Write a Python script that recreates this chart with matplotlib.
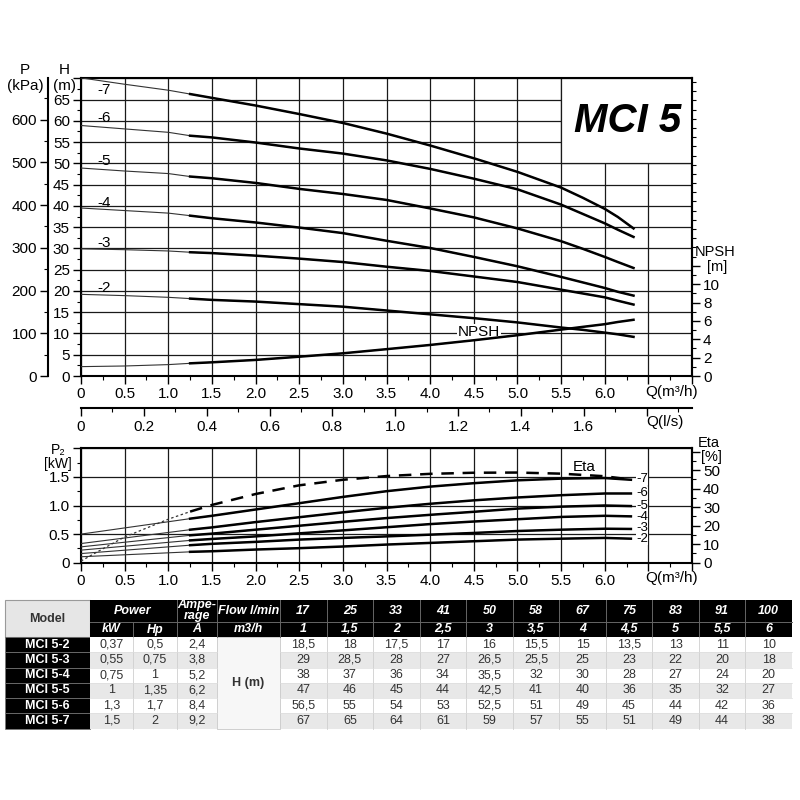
import numpy as np
import matplotlib
matplotlib.use('Agg')
import matplotlib.pyplot as plt
from matplotlib.ticker import MultipleLocator, FixedLocator
from matplotlib.patches import Rectangle

plt.rcParams['font.family'] = ['Liberation Sans', 'DejaVu Sans']

# ---- head curves H (m) vs Q (m3/h)
q_head = [0, 0.5, 1.0, 1.25, 1.5, 2.0, 2.5, 3.0, 3.5, 4.0, 4.5, 5.0, 5.5, 5.75, 6.0, 6.15, 6.33]
h_7 = [70.1, 68.6, 67.2, 66.3, 65.4, 63.6, 61.6, 59.5, 57.0, 54.2, 51.2, 48.0, 44.3, 41.9, 39.3, 37.4, 34.7]
h_6 = [58.9, 58.1, 57.3, 56.5, 56.1, 54.9, 53.5, 52.3, 50.7, 48.7, 46.4, 43.9, 40.3, 38.1, 35.9, 34.4, 32.7]
h_5 = [48.9, 48.2, 47.6, 46.9, 46.5, 45.4, 44.0, 42.8, 41.4, 39.4, 37.3, 34.7, 31.7, 29.9, 28.0, 26.8, 25.4]
h_4 = [39.5, 38.9, 38.3, 37.7, 37.1, 36.1, 34.9, 33.6, 31.8, 30.1, 28.0, 25.8, 23.3, 22.0, 20.7, 19.8, 18.9]
h_3 = [29.9, 29.7, 29.4, 29.1, 28.9, 28.3, 27.6, 26.8, 25.7, 24.7, 23.4, 22.1, 20.3, 19.4, 18.5, 17.7, 16.8]
h_2 = [19.2, 18.9, 18.5, 18.2, 17.9, 17.5, 16.9, 16.3, 15.4, 14.5, 13.6, 12.6, 11.4, 10.85, 10.2, 9.8, 9.2]
npsh = [1.02, 1.09, 1.24, 1.38, 1.49, 1.75, 2.1, 2.47, 2.92, 3.38, 3.89, 4.44, 5.05, 5.35, 5.64, 5.88, 6.12]
head_label_y = [67.3, 60.6, 50.6, 40.7, 31.2, 20.6]

# ---- power curves P2 (kW)
q_pow = [0, 1.25, 1.5, 2.0, 2.5, 3.0, 3.5, 4.0, 4.5, 5.0, 5.5, 6.0, 6.3]
p2_7 = [0.50, 0.77, 0.82, 0.93, 1.04, 1.15, 1.25, 1.33, 1.39, 1.44, 1.47, 1.48, 1.45]
p2_6 = [0.335, 0.577, 0.617, 0.71, 0.795, 0.88, 0.96, 1.03, 1.09, 1.14, 1.18, 1.21, 1.21]
p2_5 = [0.277, 0.479, 0.508, 0.577, 0.646, 0.715, 0.78, 0.837, 0.89, 0.946, 0.98, 1.0, 0.99]
p2_4 = [0.22, 0.39, 0.415, 0.46, 0.513, 0.565, 0.62, 0.675, 0.72, 0.76, 0.80, 0.82, 0.81]
p2_3 = [0.16, 0.306, 0.33, 0.364, 0.404, 0.433, 0.46, 0.49, 0.52, 0.554, 0.577, 0.594, 0.59]
p2_2 = [0.104, 0.19, 0.20, 0.23, 0.254, 0.283, 0.317, 0.346, 0.375, 0.404, 0.42, 0.433, 0.42]
power_label_y = [1.46, 1.22, 1.0, 0.80, 0.60, 0.41]

# ---- efficiency (%)
q_eta = [0, 0.25, 0.5, 1.0, 1.25, 1.5, 2.0, 2.5, 3.0, 3.5, 4.0, 4.5, 5.0, 5.5, 6.0, 6.3]
eta = [0.9, 7.5, 13.9, 23.5, 27.6, 31.2, 37.1, 41.8, 44.8, 46.8, 48.0, 48.6, 48.7, 48.1, 46.7, 44.9]

stages = ['-7', '-6', '-5', '-4', '-3', '-2']
heads = [h_7, h_6, h_5, h_4, h_3, h_2]
powers = [p2_7, p2_6, p2_5, p2_4, p2_3, p2_2]

# ---- table
models = ['MCI 5-2', 'MCI 5-3', 'MCI 5-4', 'MCI 5-5', 'MCI 5-6', 'MCI 5-7']
power_kw = [0.37, 0.55, 0.75, 1, 1.3, 1.5]
power_hp = [0.5, 0.75, 1, 1.35, 1.7, 2]
ampere = [2.4, 3.8, 5.2, 6.2, 8.4, 9.2]
flow_lmin = [17, 25, 33, 41, 50, 58, 67, 75, 83, 91, 100]
flow_m3h = [1, 1.5, 2, 2.5, 3, 3.5, 4, 4.5, 5, 5.5, 6]
head_table = [
    [18.5, 18, 17.5, 17, 16, 15.5, 15, 13.5, 13, 11, 10],
    [29, 28.5, 28, 27, 26.5, 25.5, 25, 23, 22, 20, 18],
    [38, 37, 36, 34, 35.5, 32, 30, 28, 27, 24, 20],
    [47, 46, 45, 44, 42.5, 41, 40, 36, 35, 32, 27],
    [56.5, 55, 54, 53, 52.5, 51, 49, 45, 44, 42, 36],
    [67, 65, 64, 61, 59, 57, 55, 51, 49, 44, 38],
]

KPA_PER_M = 9.95
H_PER_NPSH = 2.16
ETA_PER_KW = 30.9
M3H_PER_LS = 3.6


def fx(px):
    return px / 800


def fy(py):
    return 1 - py / 800


def comma(v):
    return f'{v:g}'.replace('.', ',')


def qfmt(v):
    if v > 6.01:
        return ''
    return '0' if v == 0 else f'{v:.1f}'


GRID = dict(color='#1a1a1a', lw=0.9)
fig = plt.figure(figsize=(8, 8), dpi=100)

# ================= table (drawn in pixel coords)
tab = fig.add_axes([0, 0, 1, 1])
tab.set_xlim(0, 800)
tab.set_ylim(800, 0)
tab.axis('off')
tab.patch.set_visible(False)

col_x = [5, 90, 133, 177, 217, 280]
fw = (792 - 280) / len(flow_lmin)
flow_x = [280 + i * fw for i in range(len(flow_lmin) + 1)]
y_h1, y_h2, y_d = 600, 622, 637
rh = (728.5 - y_d) / len(models)
TFS = 9

tab.add_patch(Rectangle((5, y_h1), 85, y_d - y_h1, fc='#e6e6e6', ec='#9a9a9a', lw=0.8))
tab.text(47.5, (y_h1 + y_d) / 2, 'Model', ha='center', va='center', fontsize=TFS,
         fontweight='bold', color='#333333')
tab.add_patch(Rectangle((90, y_h1), 792 - 90, y_d - y_h1, fc='black', ec='none'))
hdr = dict(ha='center', va='center', fontsize=TFS, color='white', fontweight='bold', style='italic')
r1 = (y_h1 + y_h2) / 2
r2 = (y_h2 + y_d) / 2
tab.text(133, r1, 'Power', **hdr)
tab.text(111.5, r2, 'kW', **hdr)
tab.text(155, r2, 'Hp', **hdr)
tab.text(197, r1 - 0.5, 'Ampe-\nrage', linespacing=0.85, **hdr)
tab.text(197, r2, 'A', **hdr)
tab.text(248.5, r1, 'Flow l/min', **hdr)
tab.text(248.5, r2, 'm3/h', **hdr)
for i in range(len(flow_lmin)):
    cx = (flow_x[i] + flow_x[i + 1]) / 2
    tab.text(cx, r1, str(flow_lmin[i]), **hdr)
    tab.text(cx, r2, comma(flow_m3h[i]), **hdr)
tab.plot([90, 792], [y_h2, y_h2], color='#666666', lw=0.7)
for x in col_x[1:] + flow_x[1:-1]:
    if x == 133:
        tab.plot([x, x], [y_h2, y_d], color='#666666', lw=0.7)
    elif x > 90:
        tab.plot([x, x], [y_h1, y_d], color='#666666', lw=0.7)

for r, name in enumerate(models):
    y0 = y_d + r * rh
    yc = y0 + rh / 2
    bg = 'white' if r % 2 == 0 else '#e8e8e8'
    tab.add_patch(Rectangle((5, y0), 85, rh, fc='black', ec='#777777', lw=0.5))
    tab.text(47.5, yc, name, ha='center', va='center', fontsize=TFS,
             fontweight='bold', color='white')
    tab.add_patch(Rectangle((90, y0), 217 - 90, rh, fc=bg, ec='none'))
    tab.add_patch(Rectangle((280, y0), 792 - 280, rh, fc=bg, ec='none'))
    for cx, v in zip([111.5, 155, 197], [power_kw[r], power_hp[r], ampere[r]]):
        tab.text(cx, yc, comma(v), ha='center', va='center', fontsize=TFS, color='#333333')
    for i, v in enumerate(head_table[r]):
        cx = (flow_x[i] + flow_x[i + 1]) / 2
        tab.text(cx, yc, comma(v), ha='center', va='center', fontsize=TFS, color='#333333')
tab.add_patch(Rectangle((217, y_d), 63, len(models) * rh, fc='#f7f7f7', ec='#c8c8c8', lw=0.6))
tab.text(248.5, y_d + len(models) * rh / 2, 'H (m)', ha='center', va='center',
         fontsize=TFS, fontweight='bold', color='#333333')
for x in [133, 177] + flow_x[1:-1]:
    tab.plot([x, x], [y_d, y_d + len(models) * rh], color='#cfcfcf', lw=0.6)
for r in range(1, len(models)):
    tab.plot([90, 217], [y_d + r * rh] * 2, color='#dddddd', lw=0.5)
    tab.plot([280, 792], [y_d + r * rh] * 2, color='#dddddd', lw=0.5)

# ================= top chart: head
ax = fig.add_axes([fx(81), fy(376), fx(692) - fx(81), fy(78.3) - fy(376)])
ax.set_xlim(0, 7)
ax.set_ylim(0, 70)
ax.set_axisbelow(True)
xt = np.arange(0, 7.01, 0.5)
ax.set_xticks(xt)
ax.set_xticklabels([qfmt(v) for v in xt])
ax.xaxis.set_minor_locator(MultipleLocator(0.25))
yt = np.arange(0, 70.1, 5)
ax.set_yticks(yt)
ax.set_yticklabels([f'{v:g}' if v < 70 else '' for v in yt])
ax.yaxis.set_minor_locator(MultipleLocator(2.5))
ax.grid(True, which='major', **GRID)
ax.tick_params(which='major', direction='out', length=6, width=1, labelsize=11, pad=2)
ax.tick_params(which='minor', direction='out', length=3, width=0.8)
for s in ax.spines.values():
    s.set_linewidth(1.5)

ax.add_patch(Rectangle((5.5, 50), 1.5, 20, fc='white', ec='#1a1a1a', lw=0.9, zorder=1))
ax.text(6.26, 59.9, 'MCI 5', ha='center', va='center', fontsize=29,
        fontweight='bold', style='italic', zorder=2)

q_arr = np.array(q_head)
thick = q_arr >= 1.25
for lab, h, ly in zip(stages, heads, head_label_y):
    h = np.array(h)
    ax.plot(q_arr, h, color='#333333', lw=0.8, zorder=3)
    ax.plot(q_arr[thick], h[thick], color='black', lw=1.8, zorder=3, solid_joinstyle='round')
    ax.text(0.19, ly, lab, ha='left', va='center', fontsize=11, zorder=4)
npsh_h = np.array(npsh) * H_PER_NPSH
ax.plot(q_arr, npsh_h, color='#333333', lw=0.8, zorder=3)
ax.plot(q_arr[thick], npsh_h[thick], color='black', lw=1.8, zorder=3, solid_joinstyle='round')
ax.text(4.56, 10.4, 'NPSH', ha='center', va='center', fontsize=11, zorder=2.5,
        bbox=dict(fc='white', ec='none', pad=0.3))

secP = ax.secondary_yaxis((48 - 81) / 611, functions=(lambda h: h * KPA_PER_M,
                                                        lambda p: p / KPA_PER_M))
secP.set_yticks(np.arange(0, 601, 100))
secP.yaxis.set_minor_locator(MultipleLocator(50))
secP.tick_params(which='major', direction='out', length=6, width=1, labelsize=11, pad=2)
secP.tick_params(which='minor', direction='out', length=3, width=0.8)
secP.spines['left'].set_linewidth(1.5)

secN = ax.secondary_yaxis('right', functions=(lambda h: h / H_PER_NPSH,
                                              lambda n: n * H_PER_NPSH))
nt = np.arange(0, 12.1, 2)
secN.set_yticks(nt)
secN.set_yticklabels([f'{v:g}' if v <= 10 else '' for v in nt])
secN.yaxis.set_minor_locator(MultipleLocator(1))
secN.tick_params(which='major', direction='out', length=6, width=1, labelsize=11, pad=2)
secN.tick_params(which='minor', direction='out', length=3, width=0.8)
secN.spines['right'].set_linewidth(1.5)

fig.text(fx(25), fy(70), 'P', ha='center', va='center', fontsize=11)
fig.text(fx(25), fy(86), '(kPa)', ha='center', va='center', fontsize=11)
fig.text(fx(64), fy(70), 'H', ha='center', va='center', fontsize=11)
fig.text(fx(64), fy(86), '(m)', ha='center', va='center', fontsize=11)
fig.text(fx(715), fy(252), 'NPSH', ha='center', va='center', fontsize=10.5)
fig.text(fx(717), fy(267), '[m]', ha='center', va='center', fontsize=10.5)
fig.text(fx(672), fy(392), 'Q(m³/h)', ha='center', va='center', fontsize=11)

# ================= Q in l/s scale
axq = fig.add_axes([fx(81), fy(407.7), fx(692) - fx(81), 0.0001])
axq.set_xlim(0, 7 / M3H_PER_LS)
for s in ['left', 'right', 'top']:
    axq.spines[s].set_visible(False)
axq.spines['bottom'].set_linewidth(1.5)
axq.set_yticks([])
lt = np.arange(0, 1.81, 0.2)
axq.xaxis.set_major_locator(FixedLocator(lt))
axq.set_xticklabels(['0' if v == 0 else (f'{v:.1f}' if v < 1.7 else '') for v in lt])
axq.xaxis.set_minor_locator(MultipleLocator(0.1))
axq.tick_params(which='major', direction='out', length=6, width=1, labelsize=11, pad=3)
axq.tick_params(which='minor', direction='out', length=3, width=0.8)
fig.text(fx(665), fy(422), 'Q(l/s)', ha='center', va='center', fontsize=11)

# ================= bottom chart: power and efficiency
ax2 = fig.add_axes([fx(81), fy(562.7), fx(692) - fx(81), fy(448.3) - fy(562.7)])
ax2.set_xlim(0, 7)
ax2.set_ylim(0, 2.0)
ax2.set_axisbelow(True)
ax2.set_xticks(xt)
ax2.set_xticklabels([qfmt(v) for v in xt])
ax2.xaxis.set_minor_locator(MultipleLocator(0.25))
pt = np.arange(0, 2.01, 0.5)
ax2.set_yticks(pt)
ax2.set_yticklabels(['0' if v == 0 else (f'{v:.1f}' if v < 2 else '') for v in pt])
ax2.yaxis.set_minor_locator(MultipleLocator(0.25))
ax2.grid(True, which='major', **GRID)
ax2.tick_params(which='major', direction='out', length=6, width=1, labelsize=11, pad=2)
ax2.tick_params(which='minor', direction='out', length=3, width=0.8)
for s in ax2.spines.values():
    s.set_linewidth(1.5)

qp = np.array(q_pow)
thick_p = qp >= 1.25
for lab, p, ly in zip(stages, powers, power_label_y):
    p = np.array(p)
    ax2.plot(qp, p, color='#333333', lw=0.8, zorder=3)
    ax2.plot(qp[thick_p], p[thick_p], color='black', lw=1.8, zorder=3, solid_joinstyle='round')
    ax2.text(6.36, ly, lab, ha='left', va='center', fontsize=9.5, zorder=4,
             bbox=dict(fc='white', ec='none', pad=0.0))

qe = np.array(q_eta)
eta_kw = np.array(eta) / ETA_PER_KW
thin_e = qe <= 1.25
thick_e = qe >= 1.25
ax2.plot(qe[thin_e], eta_kw[thin_e], color='#333333', lw=0.9, dashes=(2, 2), zorder=3)
ax2.plot(qe[thick_e], eta_kw[thick_e], color='black', lw=1.8, dashes=(5, 3.5), zorder=3)
ax2.text(5.77, 51.8 / ETA_PER_KW, 'Eta', ha='center', va='center', fontsize=11, zorder=4)

secE = ax2.secondary_yaxis('right', functions=(lambda p: p * ETA_PER_KW,
                                               lambda e: e / ETA_PER_KW))
et = np.arange(0, 60.1, 10)
secE.set_yticks(et)
secE.set_yticklabels([f'{v:g}' if v <= 50 else '' for v in et])
secE.yaxis.set_minor_locator(MultipleLocator(5))
secE.tick_params(which='major', direction='out', length=6, width=1, labelsize=11, pad=2)
secE.tick_params(which='minor', direction='out', length=3, width=0.8)
secE.spines['right'].set_linewidth(1.5)

fig.text(fx(58), fy(450), 'P₂', ha='center', va='center', fontsize=10)
fig.text(fx(58), fy(464), '[kW]', ha='center', va='center', fontsize=10)
fig.text(fx(709), fy(443), 'Eta', ha='center', va='center', fontsize=10.5)
fig.text(fx(711), fy(457), '[%]', ha='center', va='center', fontsize=10.5)
fig.text(fx(672), fy(578), 'Q(m³/h)', ha='center', va='center', fontsize=11)

fig.savefig('out.png', dpi=100)
